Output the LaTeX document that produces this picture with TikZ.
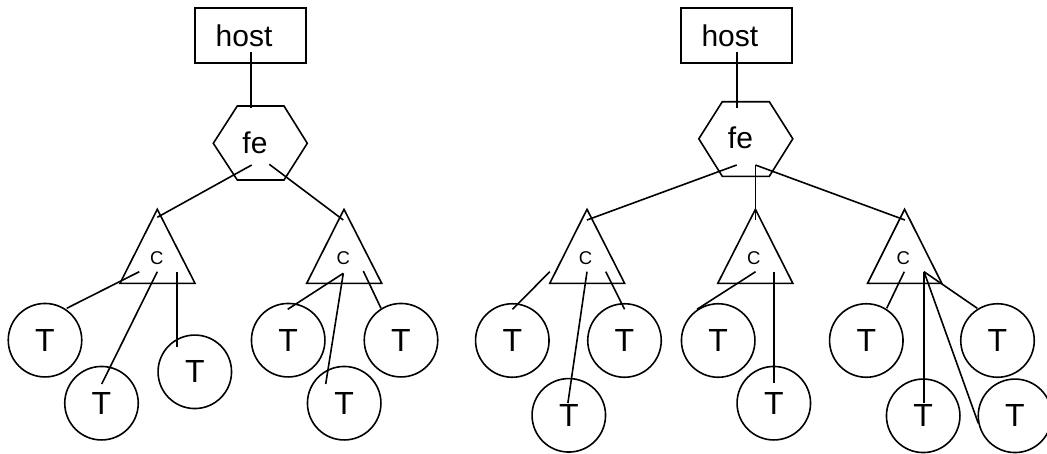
\documentclass[tikz,border=0pt]{standalone}
\usepackage{fontspec}
\setmainfont{Liberation Sans}
\tikzset{
  ln/.style={line width=1.6pt},
  shp/.style={draw, line width=1.6pt, line join=miter},
  hostbox/.style={draw, rectangle, line width=1.6pt, inner sep=0pt, minimum width=111.5pt, minimum height=55.5pt},
  tcirc/.style={draw, circle, line width=1.6pt, minimum size=73.5pt, inner sep=0pt, font=\fontsize{32}{36}\selectfont},
  lbl/.style={inner sep=0pt, font=\fontsize{30}{34}\selectfont},
  clbl/.style={inner sep=0pt, font=\fontsize{18.5}{22}\selectfont},
}
\begin{document}
\begin{tikzpicture}[x=1pt, y=-1pt]
\useasboundingbox (0,0) rectangle (1047,453);

% ================= LEFT TREE =================
\node[hostbox] (hostA) at (250.5,35.5) {};
\node[lbl] (hostAt) at (244,35.8) {host};
\draw[shp] (237.3,106) -- (284,106) -- (307.3,143.3) -- (284,180) -- (237.3,180) -- (213.3,143.3) -- cycle;
\node[lbl] (feA) at (255,142.8) {fe};
\draw[shp] (157.3,209.3) -- (195,283.3) -- (120,283.3) -- cycle;
\node[clbl] (cA1) at (156.7,258.3) {C};
\draw[shp] (344,209.3) -- (381.7,283.3) -- (306.7,283.3) -- cycle;
\node[clbl] (cA2) at (343.3,258.3) {C};
\node[tcirc] (tA1) at (45,340.2) {T};
\node[tcirc] (tA2) at (101.5,403.2) {T};
\node[tcirc] (tA3) at (194.8,371.8) {T};
\node[tcirc] (tA4) at (288.2,340.2) {T};
\node[tcirc] (tA5) at (344.2,403.2) {T};
\node[tcirc] (tA6) at (401,340.2) {T};

\coordinate (hA_s) at (250.7,52);
\coordinate (hA_e) at (250.7,108);
\coordinate (fA_l) at (251.7,165);
\coordinate (fA_r) at (269.3,164.3);
\coordinate (cA1_top) at (157.3,217.3);
\coordinate (cA2_top) at (343.3,220);
\coordinate (cA1_a) at (139.3,271.7);
\coordinate (cA1_b) at (157.3,271.7);
\coordinate (cA1_c) at (176.7,271.7);
\coordinate (tA1_e) at (66.7,308.3);
\coordinate (tA2_e) at (101.7,384);
\coordinate (tA3_e) at (176.7,346.7);
\coordinate (cA2_a) at (343.3,273.3);
\coordinate (cA2_c) at (363.3,271);
\coordinate (tA4_e) at (287.7,309.3);
\coordinate (tA5_e) at (325.7,384);
\coordinate (tA6_e) at (381,308.3);

\draw[ln] (hA_s) -- (hA_e);
\draw[ln] (fA_l) -- (cA1_top);
\draw[ln] (fA_r) -- (cA2_top);
\draw[ln] (cA1_a) -- (tA1_e);
\draw[ln] (cA1_b) -- (tA2_e);
\draw[ln] (cA1_c) -- (tA3_e);
\draw[ln] (cA2_a) -- (tA4_e);
\draw[ln] (cA2_a) -- (tA5_e);
\draw[ln] (cA2_c) -- (tA6_e);

% ================= RIGHT TREE =================
\node[hostbox] (hostB) at (736.5,35.5) {};
\node[lbl] (hostBt) at (729.9,35.8) {host};
\draw[shp] (722.3,101.7) -- (769.3,101.7) -- (792.8,138.8) -- (769.3,176.3) -- (722.3,176.3) -- (698.8,138.8) -- cycle;
\node[lbl] (feB) at (740.5,138) {fe};
\draw[shp] (587,209.3) -- (624.6,283.3) -- (549.8,283.3) -- cycle;
\node[clbl] (cB1) at (585.6,258.3) {C};
\draw[shp] (755.4,209.3) -- (792.8,283.3) -- (717.8,283.3) -- cycle;
\node[clbl] (cB2) at (753.7,258.3) {C};
\draw[shp] (904.6,209.3) -- (941.8,283.3) -- (867.6,283.3) -- cycle;
\node[clbl] (cB3) at (903.2,258.3) {C};
\node[tcirc] (tB1) at (512.3,340.5) {T};
\node[tcirc] (tB2) at (568.8,415.3) {T};
\node[tcirc] (tB3) at (624.5,340.5) {T};
\node[tcirc] (tB4) at (718.2,340.5) {T};
\node[tcirc] (tB5) at (773.8,403.2) {T};
\node[tcirc] (tB6) at (866.3,340.5) {T};
\node[tcirc] (tB7) at (997.5,340.5) {T};
\node[tcirc] (tB8) at (923.2,415.8) {T};
\node[tcirc] (tB9) at (1015,415.8) {T};

\coordinate (hB_s) at (736.7,51.7);
\coordinate (hB_e) at (736.7,108.3);
\coordinate (fB_l) at (736.7,165);
\coordinate (fB_m) at (755.4,165);
\coordinate (cB1_top) at (587,220);
\coordinate (cB2_top) at (755.4,220);
\coordinate (cB3_top) at (904.9,220);
\coordinate (cB1_a) at (549.8,271.7);
\coordinate (cB1_b) at (587,271.7);
\coordinate (cB1_c) at (605.8,271.7);
\coordinate (tB1_e) at (512.5,309.3);
\coordinate (tB2_e) at (567.9,403);
\coordinate (tB3_e) at (624.6,309.3);
\coordinate (cB2_a) at (755.6,271.7);
\coordinate (cB2_b) at (774,271.7);
\coordinate (tB4_e) at (697,309.3);
\coordinate (tB5_e) at (774,383.3);
\coordinate (cB3_a) at (904.3,271.7);
\coordinate (cB3_b) at (924,271.7);
\coordinate (tB6_e) at (886.7,308.3);
\coordinate (tB8_e) at (924,403.3);
\coordinate (tB7_e) at (977.3,308.3);
\coordinate (tB9_e) at (978.3,423.3);

\draw[ln] (hB_s) -- (hB_e);
\draw[ln] (fB_l) -- (cB1_top);
\draw[ln] (fB_m) -- (cB2_top);
\draw[ln] (fB_m) -- (cB3_top);
\draw[ln] (cB1_a) -- (tB1_e);
\draw[ln] (cB1_b) -- (tB2_e);
\draw[ln] (cB1_c) -- (tB3_e);
\draw[ln] (cB2_a) -- (tB4_e);
\draw[ln] (cB2_b) -- (tB5_e);
\draw[ln] (cB3_a) -- (tB6_e);
\draw[ln] (cB3_b) -- (tB8_e);
\draw[ln] (cB3_b) -- (tB7_e);
\draw[ln] (cB3_b) -- (tB9_e);
\end{tikzpicture}
\end{document}
